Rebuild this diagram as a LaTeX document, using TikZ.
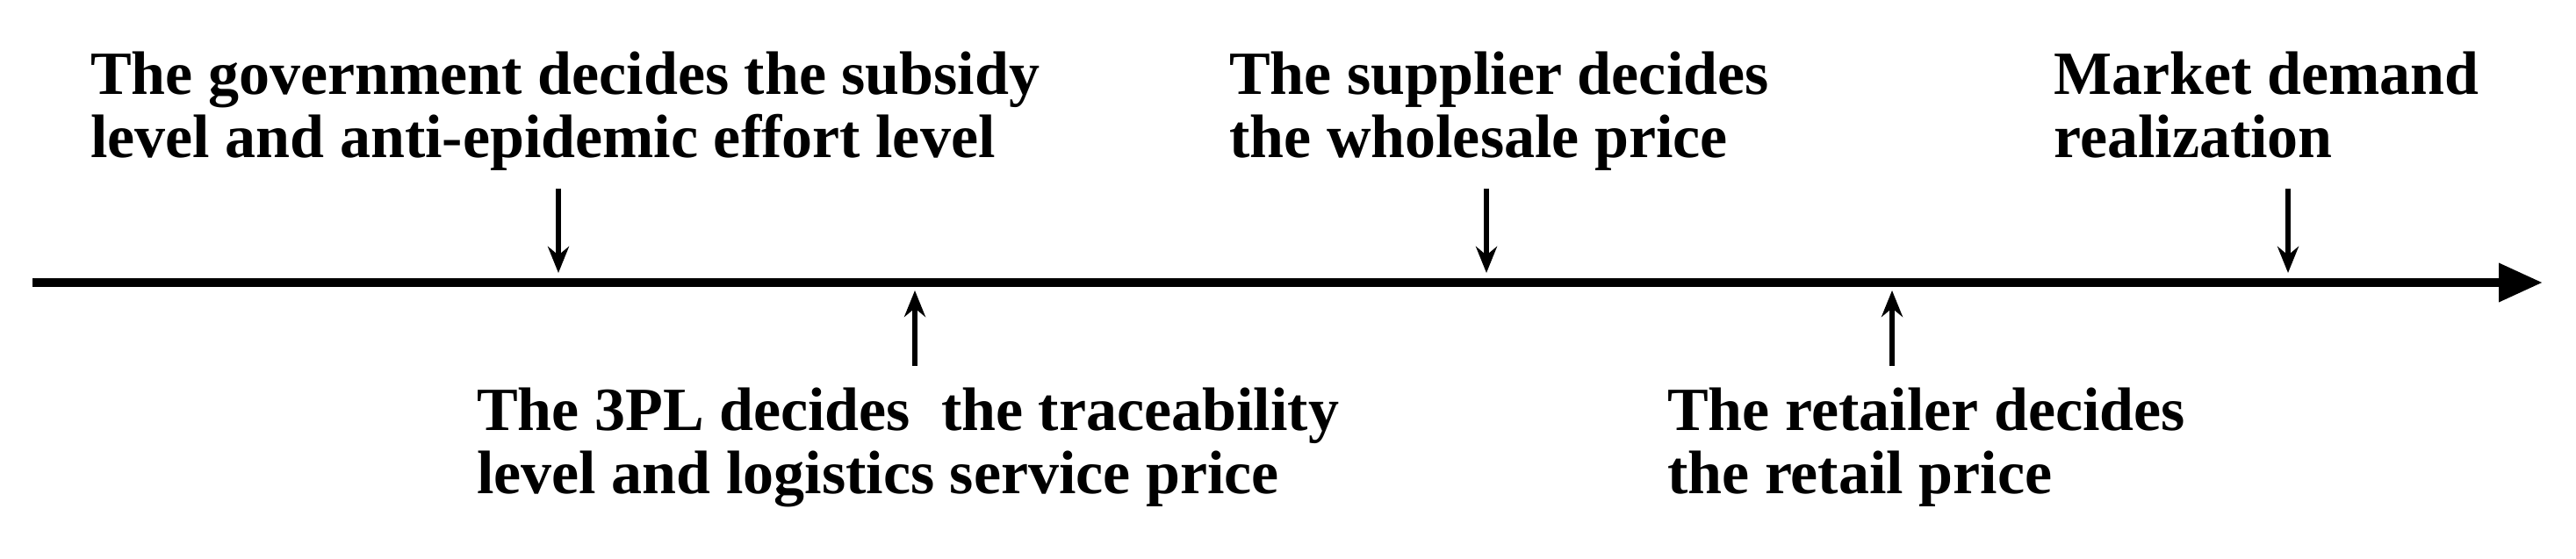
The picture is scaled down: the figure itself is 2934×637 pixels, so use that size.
\documentclass[tikz,border=0pt]{standalone}
\usepackage{fontspec}
\setmainfont{Liberation Serif}
\usetikzlibrary{arrows.meta}
\begin{document}
\begin{tikzpicture}[x=1pt,y=1pt,
  lbl/.style={anchor=north west,align=left,inner sep=0pt,font=\fontsize{70}{72}\selectfont\bfseries},
  tick/.style={line width=6pt,-{Stealth[length=30pt,width=24pt]}}]
\useasboundingbox (0,0) rectangle (2934,637);
\coordinate (s) at (37,315);
\coordinate (e) at (2896,315);
\draw[line width=10pt,-{Triangle[length=50pt,width=42pt]}] (s) -- (e);
\node[lbl] (g) at (103,578) {The government decides the subsidy\\level and anti-epidemic effort level};
\node[lbl] (su) at (1400,578) {The supplier decides\\the wholesale price};
\node[lbl] (m) at (2339,578) {Market demand\\realization};
\node[lbl] (p) at (543,195) {The 3PL decides \ the traceability\\level and logistics service price};
\node[lbl] (r) at (1899,195) {The retailer decides\\the retail price};
\foreach \x/\n in {636/a,1693/b,2606/c}{
  \coordinate (\n1) at (\x,422); \coordinate (\n2) at (\x,326);
  \draw[tick] (\n1) -- (\n2);}
\foreach \x/\n in {1042/d,2155/f}{
  \coordinate (\n1) at (\x,220); \coordinate (\n2) at (\x,306);
  \draw[tick] (\n1) -- (\n2);}
\end{tikzpicture}
\end{document}
